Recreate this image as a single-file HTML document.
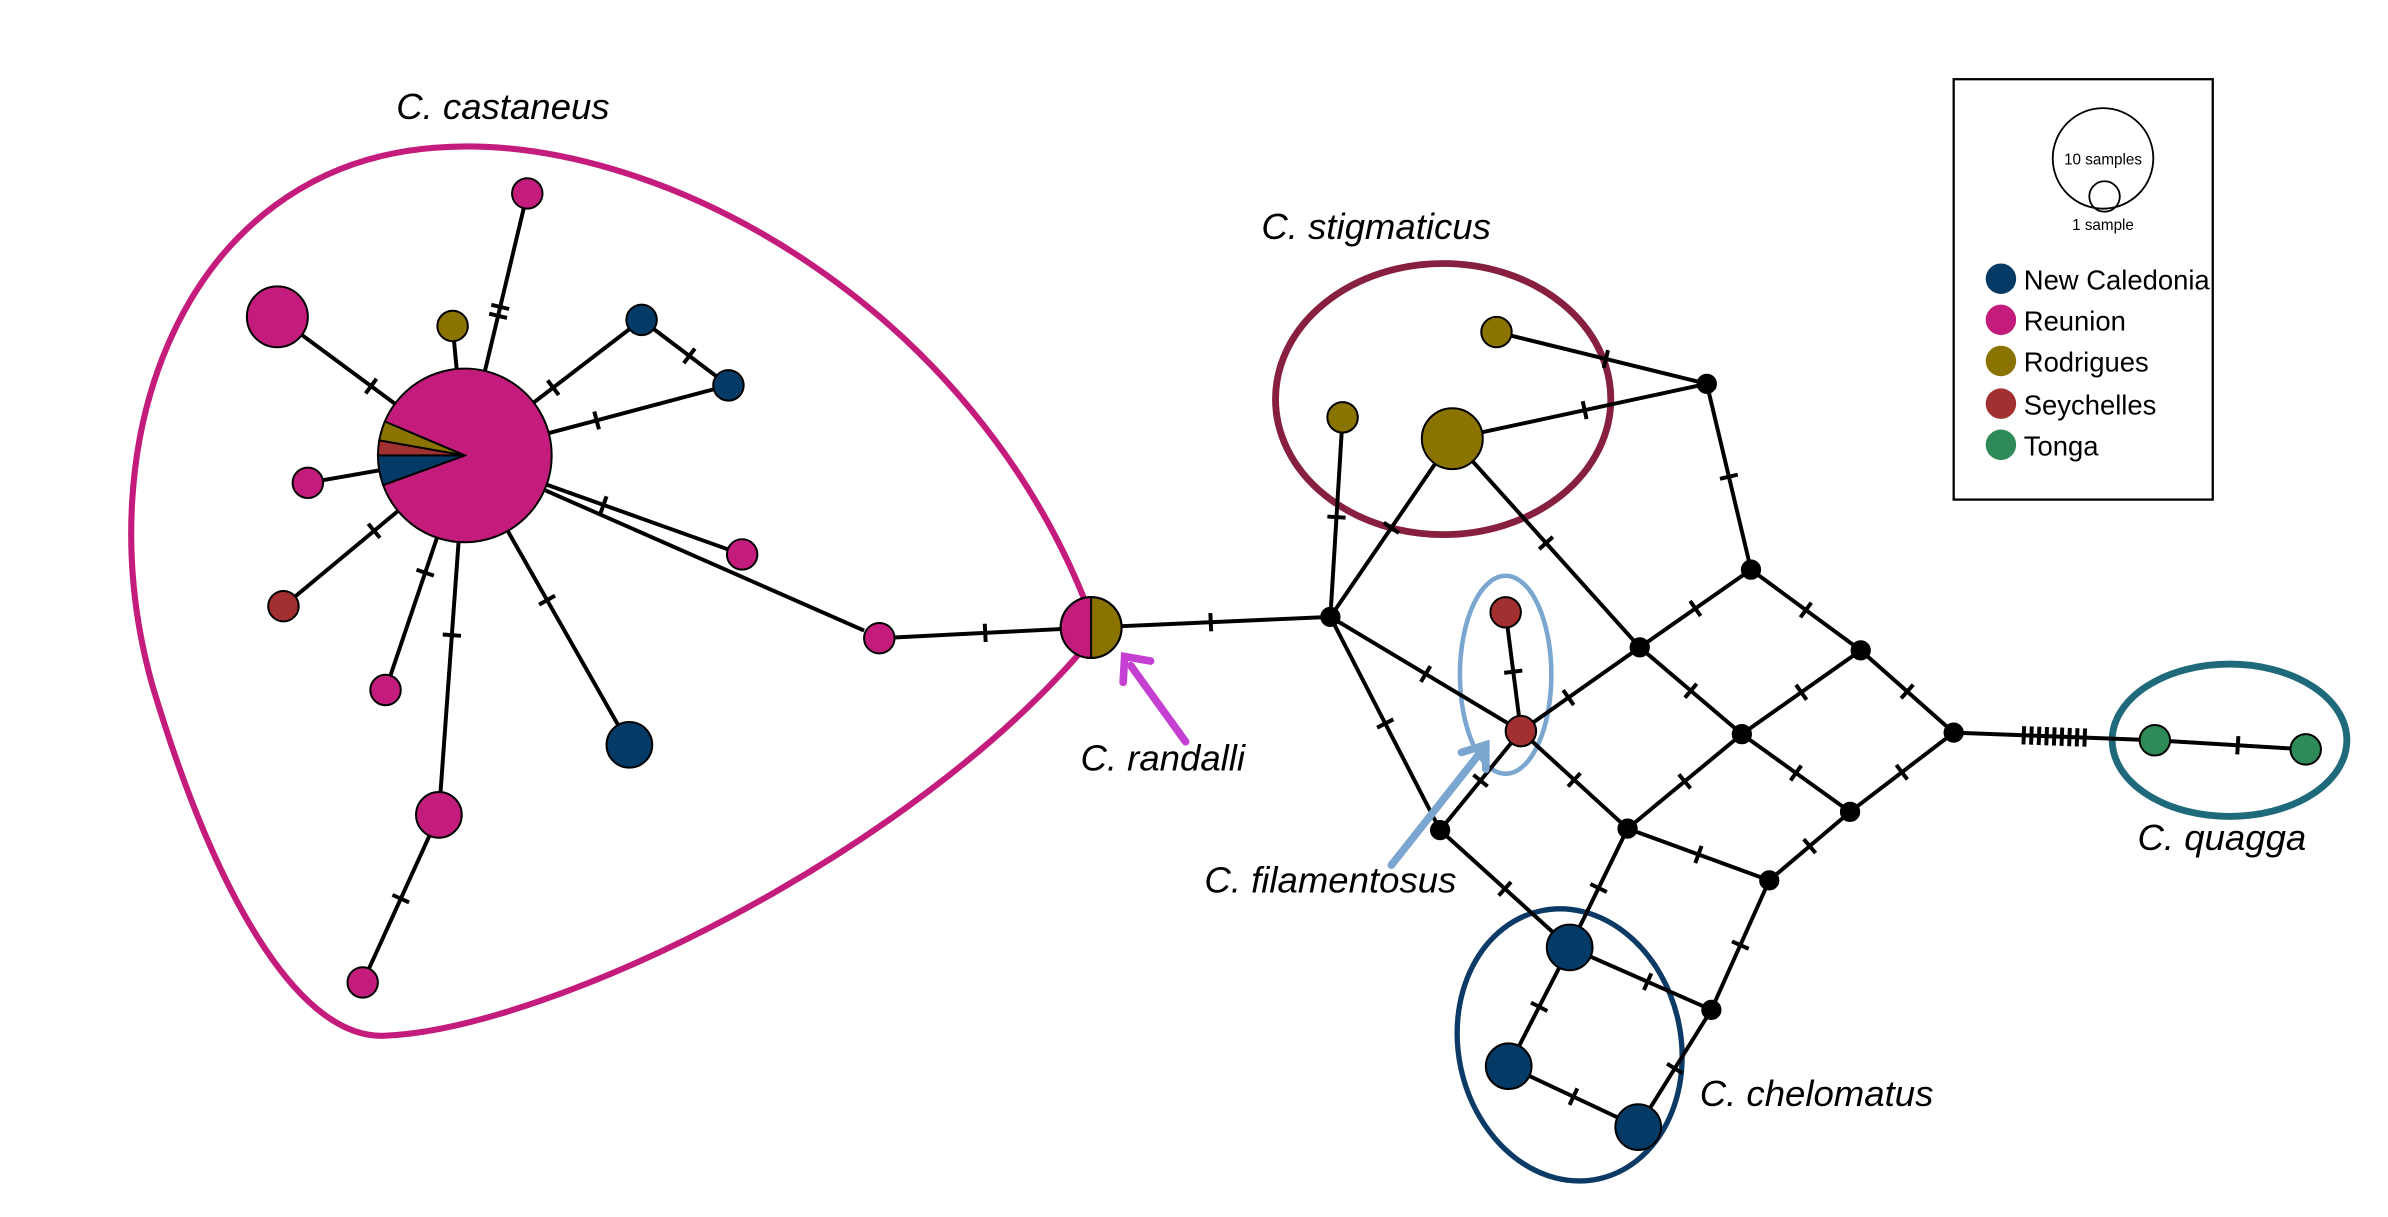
<!DOCTYPE html>
<html><head><meta charset="utf-8"><style>
html,body{margin:0;padding:0;background:#fff;}
svg{display:block;}
text{font-family:"Liberation Sans",sans-serif;}
.lab{font-style:italic;font-size:24px;}
</style></head><body>
<svg id="s" width="2388" height="1217" viewBox="0 0 1567 799" preserveAspectRatio="none" xmlns="http://www.w3.org/2000/svg">
<rect width="1567" height="799" fill="#fff"/>
<path d="M716,405 C640,200 430,85 285,97 C120,110 55,290 100,450 C145,600 200,682 252,680 C360,676 600,560 716,420" fill="none" stroke="#c41c7c" stroke-width="4"/>
<ellipse cx="947" cy="262" rx="110" ry="89" fill="none" stroke="#86203e" stroke-width="4.5"/>
<ellipse cx="988" cy="443" rx="30" ry="65" fill="none" stroke="#7aa6cf" stroke-width="3"/>
<ellipse cx="1030" cy="686" rx="73" ry="90" transform="rotate(-12 1030 686)" fill="none" stroke="#0c3a66" stroke-width="3.5"/>
<ellipse cx="1463" cy="486" rx="77" ry="50" fill="none" stroke="#1f6a7a" stroke-width="4.5"/>
<g id="edges" stroke="#000" stroke-width="2.6" fill="none"></g>
<g id="nodes" stroke="#000" stroke-width="1.3"></g>
<g stroke="#c43fd2" stroke-width="5" stroke-linecap="round" fill="none"><line x1="778" y1="487" x2="742" y2="437"/><polyline points="737,448 738,431 755,434"/></g>
<g stroke="#7aa6cf" stroke-width="5" stroke-linecap="round" fill="none"><line x1="913" y1="568" x2="973" y2="492"/><polyline points="959,494 975,489 975,505"/></g>
<text class="lab" x="330" y="78" text-anchor="middle">C. castaneus</text>
<text class="lab" x="903" y="157" text-anchor="middle">C. stigmaticus</text>
<text class="lab" x="763" y="506" text-anchor="middle">C. randalli</text>
<text class="lab" x="873" y="586" text-anchor="middle">C. filamentosus</text>
<text class="lab" x="1458" y="558" text-anchor="middle">C. quagga</text>
<text class="lab" x="1192" y="726" text-anchor="middle">C. chelomatus</text>
<rect x="1282" y="52" width="170" height="276" fill="none" stroke="#000" stroke-width="1.5"/>
<circle cx="1380" cy="104" r="33" fill="none" stroke="#000" stroke-width="1.2"/>
<circle cx="1381" cy="129" r="10" fill="none" stroke="#000" stroke-width="1.2"/>
<text x="1380" y="108" font-size="10" text-anchor="middle">10 samples</text>
<text x="1380" y="151" font-size="10" text-anchor="middle">1 sample</text>
<g font-size="18">
<circle cx="1313" cy="183" r="10" fill="#033a66"/><text x="1328" y="190">New Caledonia</text>
<circle cx="1313" cy="210" r="10" fill="#c41c7c"/><text x="1328" y="217">Reunion</text>
<circle cx="1313" cy="237" r="10" fill="#8b7300"/><text x="1328" y="244">Rodrigues</text>
<circle cx="1313" cy="265" r="10" fill="#a33030"/><text x="1328" y="272">Seychelles</text>
<circle cx="1313" cy="292" r="10" fill="#2e8b57"/><text x="1328" y="299">Tonga</text>
</g>
</svg>
<script>
var NC="#033a66",RE="#c41c7c",RO="#8b7300",SE="#a33030",TO="#2e8b57",BK="#000";
var N={
P:[305,299,57,RE],c1:[346,127,10,RE],c2:[182,208,20,RE],c3:[297,214,10,RO],c4:[421,210,10,NC],c5:[478,253,10,NC],
c6:[202,317,10,RE],c7:[487,364,10,RE],c8:[186,398,10,SE],c9:[253,453,10,RE],c10:[413,489,15,NC],c11:[288,535,15,RE],
c12:[238,645,10,RE],c13:[577,419,10,RE],R:[716,412,20,null],
A:[873,405,6,BK],B:[1120,252,6,BK],C:[1149,374,6,BK],D:[1076,425,6,BK],E:[1221,427,6,BK],F:[1143,482,6,BK],G:[1282,481,6,BK],
H:[1068,544,6,BK],I:[1214,533,6,BK],J:[945,545,6,BK],K:[1161,578,6,BK],L:[1123,663,6,BK],
s1:[982,218,10,RO],s2:[881,274,10,RO],s3:[953,288,20,RO],f1:[988,402,10,SE],f2:[998,480,10,SE],
h1:[1030,622,15,NC],h2:[990,700,15,NC],h3:[1075,740,15,NC],q1:[1414,486,10,TO],q2:[1513,492,10,TO]};
var E=[["P","c1",2,.55],["P","c2",1,.5],["P","c3",0],["P","c4",1,.5],["c4","c5",1,.55],["P","c5",1,.5],["P","c6",0],
["P","c7",1,.5],["P","c8",1,.5],["P","c9",1,.5],["P","c10",1,.5],["P","c11",1,.5],["c11","c12",1,.5],["c13","R",1,.5],["R","A",1,.5],
["s1","B",1,.52],["s3","B",1,.52],["B","C",1,.5],["A","s2",1,.5],["A","s3",1,.5],["s3","D",1,.5],["A","f2",1,.5],["A","J",1,.5],
["f1","f2",1,.5],["f2","D",1,.4],["f2","J",1,.5],["f2","H",1,.5],["C","D",1,.5],["C","E",1,.5],["D","F",1,.5],["E","F",1,.5],
["E","G",1,.5],["F","H",1,.5],["F","I",1,.5],["G","I",1,.5],["H","K",1,.5],["I","K",1,.5],["H","h1",1,.5],["J","h1",1,.5],
["K","L",1,.5],["h1","L",1,.55],["h1","h2",1,.5],["h2","h3",1,.5],["L","h3",1,.5],["G","q1",9,.5],["q1","q2",1,.55]];
var ns="http://www.w3.org/2000/svg",eg=document.getElementById("edges"),ng=document.getElementById("nodes");
function mk(t,a,p){var e=document.createElementNS(ns,t);for(var k in a)e.setAttribute(k,a[k]);p.appendChild(e);return e;}
mk("line",{x1:358,y1:322,x2:567,y2:414},eg);
E.forEach(function(e){var a=N[e[0]],b=N[e[1]];mk("line",{x1:a[0],y1:a[1],x2:b[0],y2:b[1]},eg);
var n=e[2];if(!n)return;var dx=b[0]-a[0],dy=b[1]-a[1],L=Math.hypot(dx,dy),ux=dx/L,uy=dy/L,px=-uy,py=ux,t=e[3],gap=n>2?5:6;
for(var i=0;i<n;i++){var o=(i-(n-1)/2)*gap;var cx=a[0]+dx*t+ux*o,cy=a[1]+dy*t+uy*o;
mk("line",{x1:cx-px*6,y1:cy-py*6,x2:cx+px*6,y2:cy+py*6},eg);}});
for(var k in N){var d=N[k];if(k=="P"||k=="R")continue;mk("circle",{cx:d[0],cy:d[1],r:d[2],fill:d[3]},ng);}
function pt(a,r){return [305+r*Math.cos(a*Math.PI/180),299+r*Math.sin(a*Math.PI/180)];}
function wedge(a1,a2,col){var p1=pt(a1,57),p2=pt(a2,57),lg=(a2-a1)>180?1:0;
mk("path",{d:"M305,299 L"+p1+" A57,57 0 "+lg+" 1 "+p2+" Z",fill:col},ng);}
wedge(-157,160,RE);wedge(160,180,NC);wedge(180,190,SE);wedge(190,203,RO);
mk("path",{d:"M716,392 A20,20 0 0 0 716,432 Z",fill:RE},ng);
mk("path",{d:"M716,392 A20,20 0 0 1 716,432 Z",fill:RO},ng);
mk("circle",{cx:716,cy:412,r:20,fill:"none"},ng);
</script>
</body></html>
